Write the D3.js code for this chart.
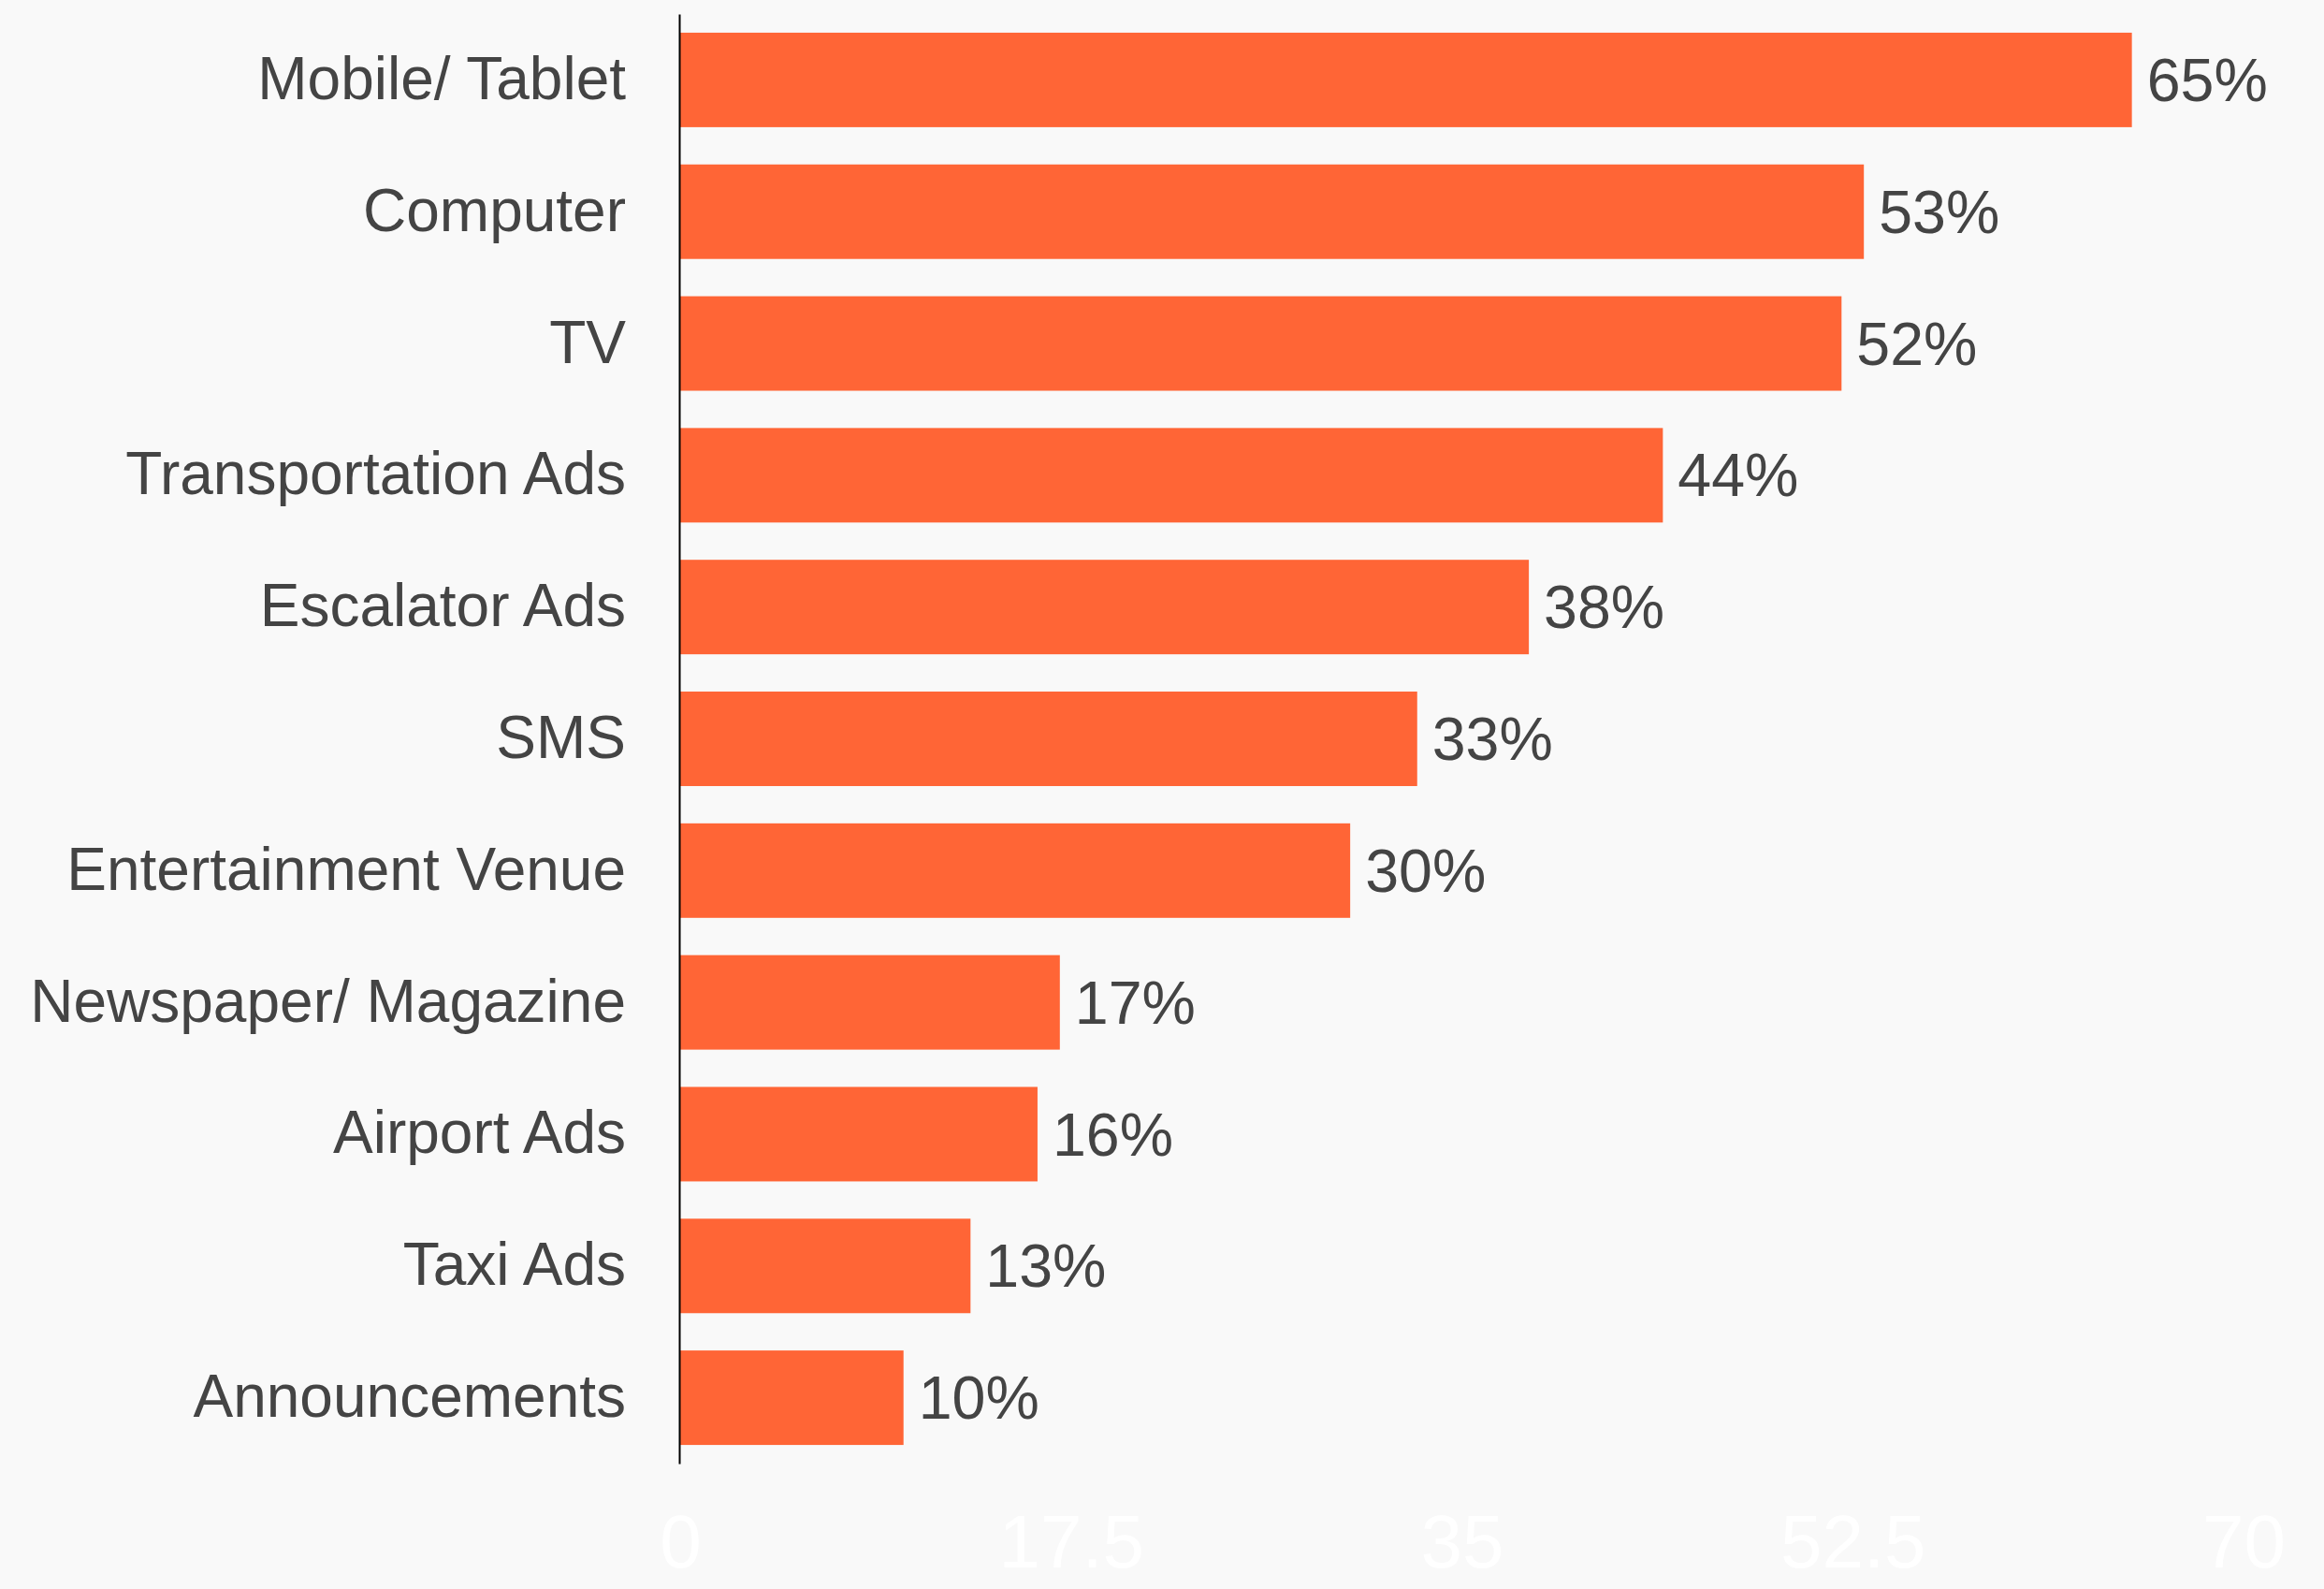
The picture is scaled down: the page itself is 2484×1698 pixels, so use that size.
<!DOCTYPE html>
<html><head><meta charset="utf-8">
<script src="https://cdn.jsdelivr.net/npm/d3@7"></script>
<style>html,body{margin:0;padding:0;background:#f9f9f9;overflow:hidden}</style>
</head><body>
<script>
const categories = ["Mobile/ Tablet","Computer","TV","Transportation Ads","Escalator Ads","SMS","Entertainment Venue","Newspaper/ Magazine","Airport Ads","Taxi Ads","Announcements"];
const values = [65,53,52,44,38,33,30,17,16,13,10];
const tickValues = [0,17.5,35,52.5,70];
const tickLabels = ["0","17.5","35","52.5","70"];

const W = 2484, H = 1698;
const svg = d3.select("body").append("svg").attr("width", W).attr("height", H)
  .style("font-family", "'Liberation Sans', Arial, sans-serif");
svg.append("rect").attr("width", W).attr("height", H).attr("fill", "#f9f9f9");

const x = d3.scaleLinear().domain([0,70]).range([727, 2398]);
const y = d3.scaleBand().domain(categories).range([15, 1564]).paddingInner(0.283).paddingOuter(0.1415);

svg.selectAll("rect.bar").data(values).join("rect").attr("class","bar")
  .attr("x", x(0)).attr("y", (d,i)=>y(categories[i]))
  .attr("width", d=>x(d)-x(0)).attr("height", y.bandwidth())
  .attr("fill", "#ff6536");

svg.selectAll("text.val").data(values).join("text").attr("class","val")
  .attr("x", d=>x(d)+16).attr("y", (d,i)=>y(categories[i])+y.bandwidth()/2)
  .attr("dy","0.35em").attr("font-size", 64.5).attr("fill","#444444")
  .text(d=>d+"%");

// y axis
const yAxis = svg.append("g").attr("transform", `translate(${x(0)-1},0)`)
  .call(d3.axisLeft(y).tickSize(0).tickPadding(57));
yAxis.select(".domain").attr("stroke","#000").attr("stroke-width",2);
yAxis.selectAll("text").attr("font-size",64).attr("fill","#444444")
  .style("font-family","'Liberation Sans', Arial, sans-serif");

// x axis (white labels)
const xAxis = svg.append("g").attr("transform", `translate(0,1564)`)
  .call(d3.axisBottom(x).tickValues(tickValues).tickFormat((d,i)=>tickLabels[i]).tickSize(0).tickPadding(54));
xAxis.select(".domain").remove();
xAxis.selectAll("text").attr("font-size",80).attr("fill","#ffffff")
  .style("font-family","'Liberation Sans', Arial, sans-serif");
</script>
</body></html>
